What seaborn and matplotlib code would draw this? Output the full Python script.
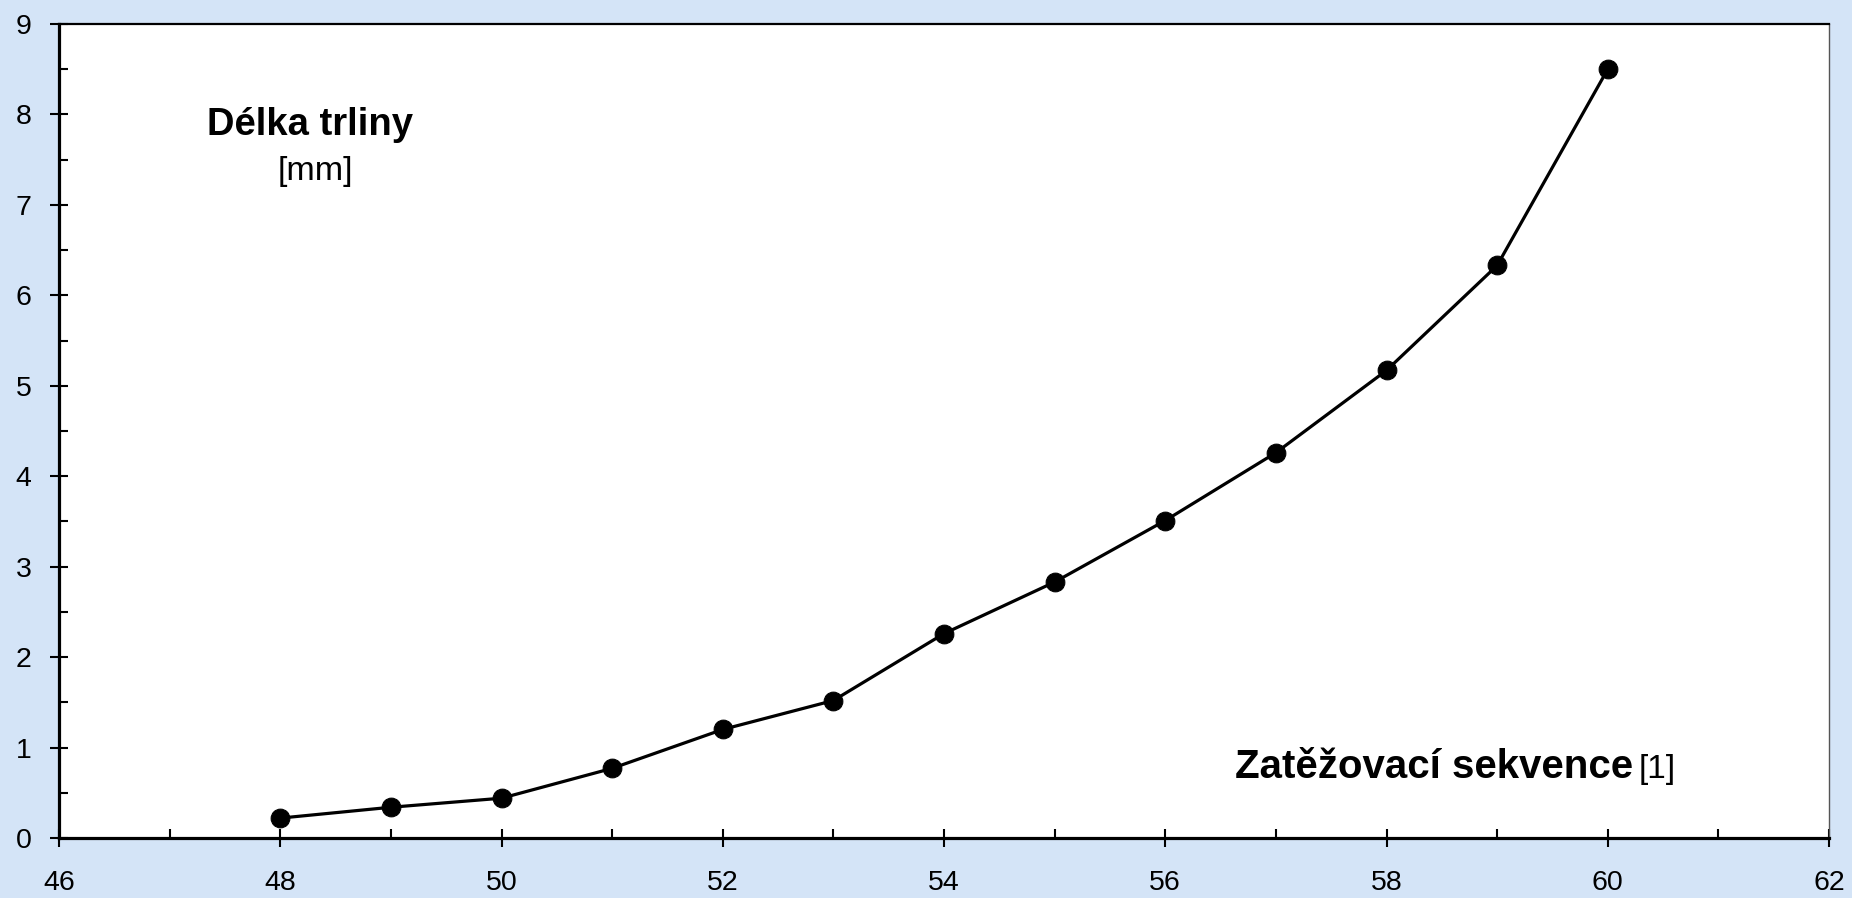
import matplotlib
matplotlib.use("Agg")
import os
import matplotlib.pyplot as plt
from matplotlib import font_manager
import seaborn as sns
import pandas as pd
from matplotlib.ticker import MultipleLocator

sequence = [48, 49, 50, 51, 52, 53, 54, 55, 56, 57, 58, 59, 60]
crack_length = [0.22, 0.34, 0.44, 0.77, 1.20, 1.52, 2.26, 2.83, 3.51, 4.26, 5.17, 6.33, 8.50]
x_ticks = [46, 48, 50, 52, 54, 56, 58, 60, 62]
y_ticks = [0, 1, 2, 3, 4, 5, 6, 7, 8, 9]

all_fonts = [f.fname for f in font_manager.fontManager.ttflist]


def find_font(key):
    for f in all_fonts:
        if os.path.basename(f).lower().startswith(key):
            return f
    return None


reg_path = find_font('liberationsans-regular')
bold_path = find_font('liberationsans-bold.')


def fp(size, bold=False):
    path = bold_path if bold else reg_path
    if path:
        return font_manager.FontProperties(fname=path, size=size)
    return font_manager.FontProperties(family=['Liberation Sans', 'DejaVu Sans'], size=size,
                                       weight='bold' if bold else 'normal')


sns.set_theme(style="white")
plt.rcParams['font.family'] = ['Liberation Sans', 'DejaVu Sans']
plt.rcParams['text.color'] = 'black'
plt.rcParams['xtick.labelsize'] = 20.5
plt.rcParams['ytick.labelsize'] = 20.5

W, H = 1852, 898
fig = plt.figure(figsize=(W / 100, H / 100), dpi=100, facecolor='#d4e4f7')
ax = fig.add_axes([59 / W, 1 - 838 / H, (1829 - 59) / W, (838 - 24) / H])
ax.set_facecolor('white')

df = pd.DataFrame({'seq': sequence, 'len': crack_length})
sns.lineplot(data=df, x='seq', y='len', ax=ax, color='black', linewidth=2.3,
             marker='o', markersize=13.5, markeredgecolor='black', markerfacecolor='black')

ax.set_xlim(46, 62)
ax.set_ylim(0, 9)
ax.set_xticks(x_ticks)
ax.set_yticks(y_ticks)
ax.xaxis.set_minor_locator(MultipleLocator(1))
ax.yaxis.set_minor_locator(MultipleLocator(0.5))
ax.set_xlabel('')
ax.set_ylabel('')

ax.tick_params(which='major', direction='inout', length=13.5, width=1.5, colors='black',
               labelcolor='black', labelsize=20.5, labelfontfamily='Liberation Sans',
               bottom=True, left=True, top=False, right=False)
ax.tick_params(axis='x', which='major', pad=16)
ax.tick_params(axis='y', which='major', pad=13)
ax.tick_params(which='minor', direction='in', length=6.5, width=1.5, colors='black',
               bottom=True, left=True, top=False, right=False)

for side, lw, col in [('left', 2.3, 'black'), ('bottom', 2.3, 'black'),
                      ('top', 1.6, 'black'), ('right', 1.0, '#555555')]:
    ax.spines[side].set_visible(True)
    ax.spines[side].set_linewidth(lw)
    ax.spines[side].set_color(col)

fig.text(310 / W, 1 - 135 / H, 'Délka trliny', fontproperties=fp(27.5, True),
         color='black', ha='center', va='baseline')
fig.text(315 / W, 1 - 180 / H, '[mm]', fontproperties=fp(24.5), color='black',
         ha='center', va='baseline')
fig.text(1633 / W, 1 - 778 / H, 'Zatěžovací sekvence', fontproperties=fp(29, True),
         color='black', ha='right', va='baseline')
fig.text(1639 / W, 1 - 778 / H, '[1]', fontproperties=fp(24), color='black',
         ha='left', va='baseline')

fig.savefig('out.png', dpi=100, facecolor=fig.get_facecolor())
